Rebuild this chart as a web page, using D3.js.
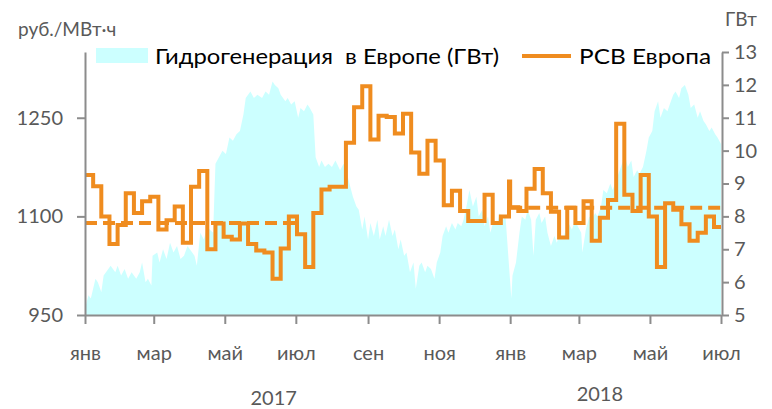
<!DOCTYPE html>
<html>
<head>
<meta charset="utf-8">
<script src="https://cdn.jsdelivr.net/npm/d3@7"></script>
<style>
  html, body { margin: 0; padding: 0; background: #fff; }
  svg { display: block; }
  text { font-family: "Lato", "Open Sans", sans-serif; }
</style>
</head>
<body>
<svg id="chart" width="772" height="409"></svg>
<script>
// ---------- DATA ----------
const monthLabels = ["янв","мар","май","июл","сен","ноя","янв","мар","май","июл"];
const yearLabels = ["2017", "2018"];
const yearLabelDates = ["2017-06-12", "2018-03-19"];
const leftTicks = [950, 1100, 1250];
const rightTicks = [5, 6, 7, 8, 9, 10, 11, 12, 13];

// Hydro generation in Europe (GW), day offset from 2017-01-01
const hydroDay = [0,3,5,9,11,14,16,20,22,26,28,31,34,37,40,44,47,49,52,54,57,58,62,64,67,70,73,76,79,82,85,88,90,94,96,99,102,105,107,110,112,115,118,121,124,127,130,133,136,138,142,145,148,152,155,158,161,163,166,168,172,174,177,180,183,185,188,191,193,196,198,201,203,206,209,212,215,219,222,225,227,230,233,235,238,240,243,245,248,251,253,256,258,261,264,266,269,271,274,276,279,282,284,287,289,292,294,297,300,302,305,307,310,312,315,318,320,323,325,328,330,333,336,338,341,343,346,348,351,354,356,359,361,364,366,367,370,373,375,378,380,383,385,387,390,392,395,397,400,403,405,408,410,413,415,418,421,423,426,427,430,433,435,438,440,443,445,448,451,453,456,458,461,464,466,469,471,474,476,479,482,484,487,489,492,494,497,500,502,505,507,510,512,515,518,520,523,526,528,531,533,536,538,541,543,546];
const hydroGW = [5.2,5.6,5.5,6.1,6.0,5.7,6.2,6.4,6.5,6.3,6.5,6.2,6.4,6.1,6.3,6.1,6.3,6.6,6.0,6.1,5.9,6.8,6.9,6.6,7.0,6.7,7.2,6.9,7.1,6.7,6.8,7.1,7.0,6.8,6.5,7.5,7.3,7.7,7.6,7.5,9.6,9.8,10.0,9.9,10.4,10.3,10.5,10.6,11.1,11.6,11.8,11.6,11.7,11.6,11.8,11.7,12.1,12.0,11.9,11.7,11.5,11.6,11.4,11.5,11.0,11.3,11.2,11.4,11.3,11.1,9.8,9.5,9.7,9.5,9.6,9.5,9.7,9.4,9.6,9.3,9.0,8.6,8.3,8.2,7.6,8.0,7.3,7.8,7.4,7.9,7.3,7.7,7.4,7.9,7.4,7.6,7.0,7.3,6.8,6.9,6.3,6.6,5.8,6.5,6.6,6.3,6.5,6.4,6.1,6.6,6.9,7.4,7.7,7.5,7.8,7.6,7.8,7.7,7.9,8.4,8.8,8.3,8.6,8.0,8.2,7.7,8.0,7.5,7.9,7.8,8.1,7.9,8.0,6.5,5.5,6.2,6.6,7.5,8.0,7.9,8.2,7.9,6.8,7.9,8.1,7.8,8.0,7.5,7.1,7.4,7.2,7.5,7.3,7.6,7.8,7.6,7.9,7.7,7.5,6.9,7.6,8.0,7.9,8.1,8.0,8.3,8.8,8.7,9.0,8.8,9.1,9.3,9.6,9.8,9.5,9.7,9.2,9.4,9.3,9.5,10.0,10.4,10.6,11.2,11.5,11.0,11.3,11.2,11.4,11.7,11.8,11.6,11.9,12.0,11.7,11.3,11.4,11.0,11.2,10.9,10.8,10.6,10.7,10.5,10.4,10.2];

// РСВ Европа price (руб./МВт·ч), weekly
const price2017 = [1163,1146,1100,1058,1087,1135,1105,1123,1130,1080,1094,1115,1060,1145,1169,1050,1089,1069,1065,1089,1058,1048,1045,1005,1051,1100,1073,1023,1105,1141,1145,1145,1212,1266,1298,1217,1253,1251,1226,1256,1197,1165,1215,1185,1117,1139,1108,1093,1093,1133,1090,1100];
const priceYearEnd = 1153;
const price2018 = [1114,1108,1142,1172,1135,1107,1068,1113,1090,1123,1063,1098,1125,1241,1133,1108,1163,1100,1023,1120,1110,1088,1063,1075,1100,1084];
// Half-year averages (dashed)
const avgValues = [1090, 1113];
const avgPeriods = [["2017-01-01","2017-07-01"],["2018-01-01","2018-07-01"]];

// ---------- CHART ----------
const svg = d3.select("#chart");
const parse = d3.timeParse("%Y-%m-%d");
const start = parse("2017-01-01"), end = parse("2018-07-01");

const x = d3.scaleTime().domain([start, end]).range([85, 721]);
const yL = d3.scaleLinear().domain([950, 1350]).range([315, 52]);
const yR = d3.scaleLinear().domain([5, 13]).range([315, 52]);

const axisColor = "#8c8c8c", labelColor = "#595959";
const orange = "#EF8C1F", cyan = "#CCFFFF";

// hydro area
const hydro = hydroDay.map((d, i) => ({ date: d3.timeDay.offset(start, d), v: hydroGW[i] }));
svg.append("path")
  .datum(hydro)
  .attr("fill", cyan)
  .attr("d", d3.area().x(d => x(d.date)).y0(yR(5)).y1(d => yR(d.v)));

// dashed averages
avgValues.forEach((v, i) => {
  svg.append("line")
    .attr("x1", x(parse(avgPeriods[i][0]))).attr("x2", x(parse(avgPeriods[i][1])))
    .attr("y1", yL(v)).attr("y2", yL(v))
    .attr("stroke", orange).attr("stroke-width", 4)
    .attr("stroke-dasharray", "12,6");
});

// price step line
const weeks2017 = d3.timeSunday.range(start, parse("2017-12-31"));
const weeks2018 = d3.timeMonday.range(parse("2018-01-01"), end);
const price = [];
weeks2017.forEach((d, i) => price.push({ date: d, v: price2017[i] }));
price.push({ date: parse("2017-12-31"), v: priceYearEnd });
weeks2018.forEach((d, i) => price.push({ date: d, v: price2018[i] }));
price.push({ date: end, v: price2018[price2018.length - 1] });

svg.append("path")
  .datum(price)
  .attr("fill", "none")
  .attr("stroke", orange)
  .attr("stroke-width", 4)
  .attr("stroke-linejoin", "miter")
  .attr("d", d3.line().curve(d3.curveStepAfter).x(d => x(d.date)).y(d => yL(d.v)));

// axes
function styleAxis(g) {
  g.selectAll(".domain").attr("stroke", axisColor).attr("stroke-width", 2);
  g.selectAll(".tick line").attr("stroke", axisColor).attr("stroke-width", 2);
  g.selectAll(".tick text").attr("fill", labelColor).style("font-size", "20px")
    .style("font-family", '"Lato", "Open Sans", sans-serif');
}

const gL = svg.append("g").attr("transform", "translate(85,0)")
  .call(d3.axisLeft(yL).tickValues(leftTicks).tickSize(8).tickSizeOuter(0).tickPadding(14).tickFormat(d3.format("d")));
styleAxis(gL);

const gR = svg.append("g").attr("transform", "translate(722,0)")
  .call(d3.axisRight(yR).tickValues(rightTicks).tickSize(7).tickSizeOuter(0).tickPadding(5).tickFormat(d3.format("d")));
styleAxis(gR);

const monthTicks = d3.timeMonth.every(2).range(start, d3.timeDay.offset(end, 1));
const gB = svg.append("g").attr("transform", "translate(0,315)")
  .call(d3.axisBottom(x).tickValues(monthTicks).tickSize(9).tickSizeOuter(0).tickPadding(22)
    .tickFormat((d, i) => monthLabels[i]));
styleAxis(gB);

// year labels
yearLabels.forEach((t, i) => {
  svg.append("text")
    .attr("x", x(parse(yearLabelDates[i])))
    .attr("y", i === 0 ? 405 : 401)
    .attr("text-anchor", "middle")
    .attr("fill", labelColor).style("font-size", "20px")
    .text(t);
});

// axis titles
svg.append("text").attr("x", 18).attr("y", 36).attr("fill", labelColor)
  .style("font-size", "19px").text("руб./МВт·ч");
svg.append("text").attr("x", 725).attr("y", 26).attr("fill", labelColor)
  .style("font-size", "19px").text("ГВт");

// legend
svg.append("rect").attr("x", 96).attr("y", 48).attr("width", 52).attr("height", 15).attr("fill", cyan);
svg.append("text").attr("x", 155).attr("y", 64).attr("fill", "#000").style("font-size", "21px")
  .attr("textLength", 344).attr("lengthAdjust", "spacingAndGlyphs")
  .text("Гидрогенерация  в Европе (ГВт)").attr("xml:space", "preserve").style("white-space", "pre");
svg.append("line").attr("x1", 522).attr("x2", 571).attr("y1", 56).attr("y2", 56)
  .attr("stroke", orange).attr("stroke-width", 4);
svg.append("text").attr("x", 579).attr("y", 64).attr("fill", "#000").style("font-size", "21px")
  .attr("textLength", 132).attr("lengthAdjust", "spacingAndGlyphs")
  .text("РСВ Европа");
</script>
</body>
</html>
